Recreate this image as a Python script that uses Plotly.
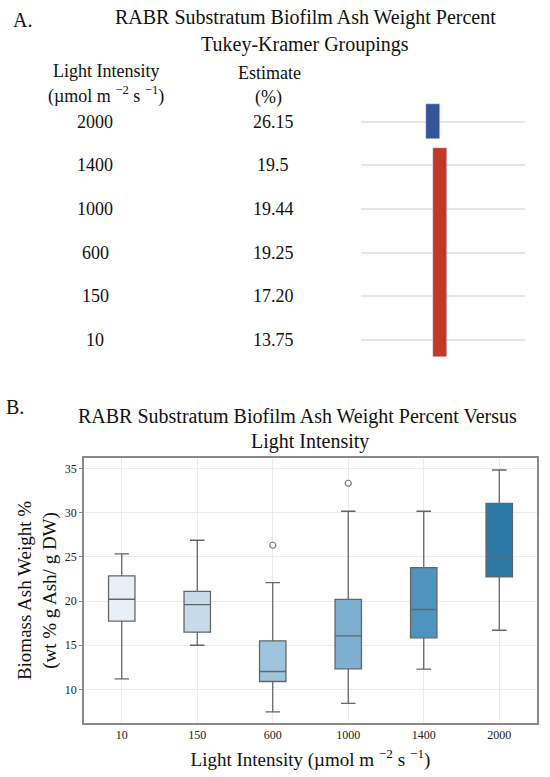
import plotly.graph_objects as go

# ---------------- Data ----------------
# Panel A: Tukey-Kramer groupings
tk_intensity = ["2000", "1400", "1000", "600", "150", "10"]
tk_estimate = ["26.15", "19.5", "19.44", "19.25", "17.20", "13.75"]
tk_group = ["A", "B", "B", "B", "B", "B"]
group_colors = {"A": "#34559b", "B": "#c0392b"}

# Panel B: box plot statistics
categories = ["10", "150", "600", "1000", "1400", "2000"]
lower_fence = [11.2, 15.0, 7.47, 8.42, 12.3, 16.7]
q1 = [17.73, 16.48, 10.9, 12.33, 15.84, 22.74]
median = [20.21, 19.6, 12.03, 16.06, 19.05, 25.12]
q3 = [22.85, 21.1, 15.5, 20.2, 23.8, 31.07]
upper_fence = [25.34, 26.89, 22.1, 30.17, 30.17, 34.84]
outlier_cat = ["600", "1000"]
outlier_val = [26.32, 33.34]
box_colors = ["#e8f0f7", "#c6dbea", "#9fc4dd", "#7eafd0", "#4f93bf", "#2b79a4"]

W, H = 550, 777
FONT = "Liberation Serif, Times New Roman, serif"


def px(x):
    return x / W


def py(y):
    return 1 - y / H


fig = go.Figure()

# ---------------- Panel B: boxes ----------------
for i, c in enumerate(categories):
    fig.add_trace(go.Box(
        x=[c], q1=[q1[i]], median=[median[i]], q3=[q3[i]],
        lowerfence=[lower_fence[i]], upperfence=[upper_fence[i]],
        fillcolor=box_colors[i],
        line=dict(color="#666666", width=1.3),
        whiskerwidth=0.55, boxpoints=False,
        showlegend=False, xaxis="x", yaxis="y", hoverinfo="y",
    ))

fig.add_trace(go.Scatter(
    x=outlier_cat, y=outlier_val, mode="markers",
    marker=dict(symbol="circle-open", size=6, color="#777777", line=dict(width=1.2)),
    showlegend=False, xaxis="x", yaxis="y",
))

# ---------------- Panel A: grouping bars ----------------
n = len(tk_intensity)
row_pos = [n - 1 - i for i in range(n)]  # 2000 at top
groups = []
for g in tk_group:
    if g not in groups:
        groups.append(g)
for g in groups:
    rows = [row_pos[i] for i in range(n) if tk_group[i] == g]
    lo, hi = min(rows) - 0.4, max(rows) + 0.4
    fig.add_trace(go.Bar(
        x=[0], y=[hi - lo], base=[lo], width=[1],
        marker=dict(color=group_colors[g]),
        showlegend=False, xaxis="x2", yaxis="y2", name=g,
    ))


def ann(x, y, text, size=18, yref="paper"):
    return dict(x=x, y=y, xref="paper", yref=yref, text=text, showarrow=False,
                xanchor="center", yanchor="middle",
                font=dict(family=FONT, size=size, color="#111"))


annotations = []
for i in range(n):
    annotations.append(ann(px(95), row_pos[i], tk_intensity[i], 18, "y2"))
    annotations.append(ann(px(273), row_pos[i], tk_estimate[i], 18, "y2"))

annotations += [
    ann(px(106), py(71), "Light Intensity"),
    ann(px(106), py(95), "(µmol m <sup>−2</sup> s <sup>−1</sup>)"),
    ann(px(269), py(73), "Estimate"),
    ann(px(268), py(97), "(%)"),
    ann(px(305), py(18), "RABR Substratum Biofilm Ash Weight Percent", 20),
    ann(px(305), py(45), "Tukey-Kramer Groupings", 20),
    ann(px(22), py(20), "A.", 20),
    ann(px(15), py(407), "B.", 20),
    ann(px(297), py(416), "RABR Substratum Biofilm Ash Weight Percent Versus", 20),
    ann(px(310), py(441), "Light Intensity", 20),
]

fig.update_layout(
    width=W, height=H,
    margin=dict(l=0, r=0, t=0, b=0),
    paper_bgcolor="white", plot_bgcolor="white",
    font=dict(family=FONT, color="#111"),
    boxgap=0.5,
    bargap=0,
    annotations=annotations,
    xaxis=dict(
        domain=[px(84), px(537)], type="category",
        categoryorder="array", categoryarray=categories,
        range=[-0.5, 5.5],
        showgrid=True, gridcolor="#ececec", gridwidth=1,
        showline=True, linecolor="#8a8a8a", linewidth=1.5, mirror=True,
        ticks="", tickfont=dict(family=FONT, size=12, color="#222"),
        title=dict(text="Light Intensity (µmol m <sup>−2</sup> s <sup>−1</sup>)",
                   font=dict(family=FONT, size=19, color="#111"), standoff=12),
        zeroline=False,
    ),
    yaxis=dict(
        domain=[py(723), py(458)], range=[6.2, 36.2],
        tickvals=[10, 15, 20, 25, 30, 35],
        showgrid=True, gridcolor="#ececec", gridwidth=1,
        showline=True, linecolor="#8a8a8a", linewidth=1.5, mirror=True,
        ticks="outside", ticklen=3, tickcolor="#8a8a8a",
        tickfont=dict(family=FONT, size=12, color="#222"),
        title=dict(text="Biomass Ash Weight %<br>(wt % g Ash/ g DW)",
                   font=dict(family=FONT, size=19, color="#111"), standoff=3),
        zeroline=False,
    ),
    xaxis2=dict(
        domain=[px(361), px(525)], range=[-75.5 / 14, 88.5 / 14],
        visible=False, anchor="y2", fixedrange=True,
    ),
    yaxis2=dict(
        domain=[py(362), py(100)], range=[-0.511, 5.498],
        tickvals=row_pos, showticklabels=False, ticks="",
        showgrid=True, gridcolor="#e3e6ea", gridwidth=1.5,
        zeroline=False, showline=False, anchor="x2",
    ),
)

fig.write_html("out.html", config={"displayModeBar": False},
               post_script="document.body.style.margin='0px';")
